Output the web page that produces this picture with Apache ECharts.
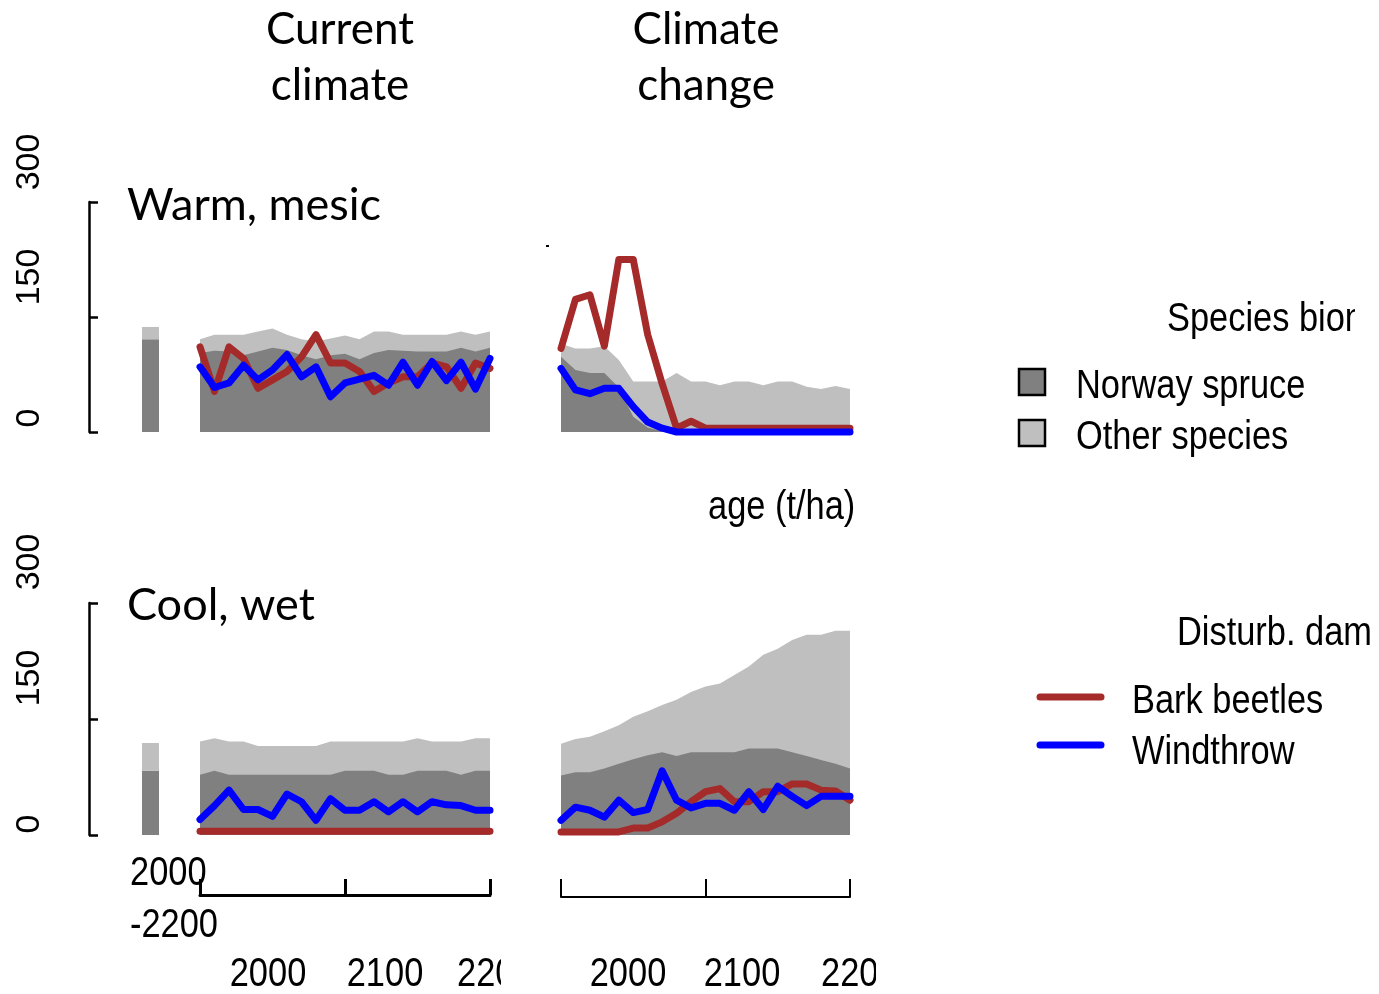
<!DOCTYPE html>
<html><head><meta charset="utf-8">
<script src="https://cdn.jsdelivr.net/npm/echarts@6/dist/echarts.min.js"></script>
<style>html,body{margin:0;padding:0;background:#fff}#c{width:1379px;height:994px}</style>
</head><body><div id="c"></div>
<script>
// ---------- data ----------
const years = [2000,2010,2020,2030,2040,2050,2060,2070,2080,2090,2100,2110,2120,2130,2140,2150,2160,2170,2180,2190,2200];
const initCats = ['', 'init', ''];
const yTickLabels = ['0','150','300'];
const xTickLabels = ['2000','2100','2200'];

// Warm, mesic – initial state
const warmInitSpruce = 121;
const warmInitOther = 16;
// Warm, mesic – current climate
const warmCurSpruce = [103,106,105,100,105,110,107,100,95,100,102,95,103,107,106,105,105,105,110,105,110];
const warmCurOther  = [18,21,22,27,26,25,20,21,23,22,24,26,28,24,21,22,22,22,21,22,21];
const warmCurBeetle = [111,53,111,96,57,68,79,98,127,90,90,79,53,64,72,72,90,85,57,90,83];
const warmCurWind   = [85,58,64,87,68,81,101,72,85,46,64,69,74,61,91,61,92,67,91,56,96];
// Warm, mesic – climate change
const warmCCSpruce = [98,81,77,77,58,20,6,1,0,0,0,0,0,0,0,0,0,0,0,0,0];
const warmCCOther  = [17,28,32,35,36,46,60,65,77,66,66,61,66,66,61,66,66,59,56,60,56];
const warmCCBeetle = [109,173,179,112,225,225,127,63,5,14,5,5,5,5,5,5,5,5,5,5,5];
const warmCCWind   = [83,55,50,57,57,33,13,5,0,0,0,0,0,0,0,0,0,0,0,0,0];

// Cool, wet – initial state
const coolInitSpruce = 83;
const coolInitOther = 36;
// Cool, wet – current climate
const coolCurSpruce = [78,83,78,78,78,78,78,78,78,78,83,83,83,78,78,83,83,83,78,83,83];
const coolCurOther  = [43,42,43,43,37,37,37,37,37,43,38,38,38,43,43,42,38,38,43,42,42];
const coolCurBeetle = [5,5,5,5,5,5,5,5,5,5,5,5,5,5,5,5,5,5,5,5,5];
const coolCurWind   = [20,38,58,33,33,24,53,43,19,47,32,32,43,30,43,30,43,39,38,32,32];
// Cool, wet – climate change
const coolCCSpruce = [77,81,81,86,92,98,103,107,102,107,107,107,107,112,112,112,107,102,97,92,86];
const coolCCOther  = [41,43,46,48,50,55,57,61,73,78,85,89,100,106,121,129,145,157,162,172,178];
const coolCCBeetle = [4,4,4,4,4,9,9,17,28,43,56,60,43,43,56,56,66,66,58,57,45];
const coolCCWind   = [19,36,32,23,45,29,33,83,45,35,41,41,32,56,33,63,50,38,50,50,50];

// ---------- styles ----------
const DARK = '#808080', LIGHT = '#bfbfbf', RED = '#a52a2a', BLUE = '#0000ff';
const SANS = "'Liberation Sans',Arial,sans-serif";
const TITLE = "Lato,'Open Sans',sans-serif";
const NARROW_SCALE = 0.86;

const chart = echarts.init(document.getElementById('c'), null, {renderer: 'canvas'});
const pairs = arr => years.map((y, i) => [y, arr[i]]);

function panelSeries(g, spruce, other, beetle, wind) {
  const base = {type: 'line', xAxisIndex: g, yAxisIndex: g, symbol: 'none', silent: true, animation: false};
  const total = spruce.map((v, i) => v + other[i]);   // other species stacked on Norway spruce
  return [
    Object.assign({}, base, {name: 'Other species', data: pairs(total), lineStyle: {width: 0}, areaStyle: {color: LIGHT, opacity: 1}, z: 1}),
    Object.assign({}, base, {name: 'Norway spruce', data: pairs(spruce), lineStyle: {width: 0}, areaStyle: {color: DARK, opacity: 1}, z: 2}),
    Object.assign({}, base, {name: 'Bark beetles', data: pairs(beetle), clip: false, lineStyle: {color: RED, width: 7, cap: 'round', join: 'round'}, z: 3}),
    Object.assign({}, base, {name: 'Windthrow', data: pairs(wind), clip: false, lineStyle: {color: BLUE, width: 7, cap: 'round', join: 'round'}, z: 4})
  ];
}
function initSeries(g, spruce, other) {
  const base = {type: 'bar', xAxisIndex: g, yAxisIndex: g, stack: 'i' + g, barWidth: 17, silent: true, animation: false};
  return [
    Object.assign({}, base, {data: [null, spruce, null], itemStyle: {color: DARK}}),
    Object.assign({}, base, {data: [null, other, null], itemStyle: {color: LIGHT}})
  ];
}

const grids = [
  {left: 89, top: 202, width: 123, height: 230},
  {left: 200, top: 202, width: 290, height: 230},
  {left: 561, top: 202, width: 289, height: 230},
  {left: 89, top: 603, width: 123, height: 232},
  {left: 200, top: 603, width: 290, height: 232},
  {left: 561, top: 603, width: 289, height: 232}
];
const hiddenY = {type: 'value', min: 0, max: 300, interval: 150, show: false};
const shownY = {type: 'value', min: 0, max: 300, interval: 150, show: true,
  axisLine: {show: true, onZero: false, lineStyle: {color: '#000', width: 2.5}},
  axisTick: {show: true, inside: true, length: 9, lineStyle: {color: '#000', width: 2.5}},
  axisLabel: {show: false}, splitLine: {show: false}};
const hiddenX = {type: 'value', min: 2000, max: 2200, show: false};
const catX = {type: 'category', data: initCats, show: false};
function shownX(g, offset, w, len) {
  return {type: 'value', gridIndex: g, min: 2000, max: 2200, interval: 100, position: 'bottom', offset: offset,
    axisLine: {show: true, onZero: false, lineStyle: {color: '#000', width: w}},
    axisTick: {show: true, inside: true, length: len, lineStyle: {color: '#000', width: w}},
    axisLabel: {show: false}, splitLine: {show: false}};
}

const xAxes = [
  Object.assign({gridIndex: 0}, catX),
  Object.assign({gridIndex: 1}, hiddenX),
  Object.assign({gridIndex: 2}, hiddenX),
  Object.assign({gridIndex: 3}, catX),
  shownX(4, 60, 3, 16),
  shownX(5, 62, 2, 18)
];
const yAxes = [
  Object.assign({gridIndex: 0}, shownY),
  Object.assign({gridIndex: 1}, hiddenY),
  Object.assign({gridIndex: 2}, hiddenY),
  Object.assign({gridIndex: 3}, shownY),
  Object.assign({gridIndex: 4}, hiddenY),
  Object.assign({gridIndex: 5}, hiddenY)
];

const series = [].concat(
  initSeries(0, warmInitSpruce, warmInitOther),
  panelSeries(1, warmCurSpruce, warmCurOther, warmCurBeetle, warmCurWind),
  panelSeries(2, warmCCSpruce, warmCCOther, warmCCBeetle, warmCCWind),
  initSeries(3, coolInitSpruce, coolInitOther),
  panelSeries(4, coolCurSpruce, coolCurOther, coolCurBeetle, coolCurWind),
  panelSeries(5, coolCCSpruce, coolCCOther, coolCCBeetle, coolCCWind)
);

// ---------- text ----------
function txt(text, x, y, opts) {
  return Object.assign({type: 'text', x: x, y: y, z: 10, style: Object.assign({text: text, fill: '#000',
    font: opts.font, textAlign: opts.align || 'left', textVerticalAlign: 'middle'}, opts.style || {})}, opts.el || {});
}
function ntxt(text, x, y, align) {   // condensed sans text
  return txt(text, x, y, {font: '40px ' + SANS, align: align, el: {scaleX: NARROW_SCALE}});
}
const T = '44px ' + TITLE;
const A = '34px ' + SANS;
const rot = {rotation: Math.PI / 2};
const graphic = [
  txt('Current', 340, 30, {font: T, align: 'center'}),
  txt('climate', 340, 86, {font: T, align: 'center'}),
  txt('Climate', 706, 30, {font: T, align: 'center'}),
  txt('change', 706, 86, {font: T, align: 'center'}),
  txt('Warm, mesic', 127, 205, {font: '45px ' + TITLE}),
  txt('Cool, wet', 127, 605, {font: '45px ' + TITLE}),
  // y tick labels (rotated)
  txt(yTickLabels[2], 30, 162, {font: A, align: 'center', el: rot}),
  txt(yTickLabels[1], 30, 277, {font: A, align: 'center', el: rot}),
  txt(yTickLabels[0], 30, 418, {font: A, align: 'center', el: rot}),
  txt(yTickLabels[2], 30, 562, {font: A, align: 'center', el: rot}),
  txt(yTickLabels[1], 30, 678, {font: A, align: 'center', el: rot}),
  txt(yTickLabels[0], 30, 824, {font: A, align: 'center', el: rot}),
  // x labels
  ntxt(xTickLabels[0], 130, 874),
  ntxt('-' + xTickLabels[2], 130, 926),
  ntxt(xTickLabels[0], 268, 975, 'center'),
  ntxt(xTickLabels[1], 385, 975, 'center'),
  ntxt(xTickLabels[2], 457, 975),
  ntxt(xTickLabels[0], 628, 975, 'center'),
  ntxt(xTickLabels[1], 742, 975, 'center'),
  ntxt(xTickLabels[2], 821, 975),
  {type: 'rect', z: 20, shape: {x: 501, y: 950, width: 80, height: 44}, style: {fill: '#fff'}},
  {type: 'rect', z: 20, shape: {x: 876, y: 950, width: 503, height: 44}, style: {fill: '#fff'}},
  // floating axis label fragment
  ntxt('age (t/ha)', 708, 508),
  {type: 'rect', z: 10, shape: {x: 546, y: 245, width: 3, height: 2}, style: {fill: '#000'}},
  // legends
  ntxt('Species biomass (t/ha)', 1167, 320),
  {type: 'rect', z: 20, shape: {x: 1355, y: 290, width: 30, height: 60}, style: {fill: '#fff'}},
  {type: 'rect', z: 10, shape: {x: 1019, y: 369, width: 26, height: 26}, style: {fill: DARK, stroke: '#000', lineWidth: 2.5}},
  {type: 'rect', z: 10, shape: {x: 1019, y: 420, width: 26, height: 26}, style: {fill: LIGHT, stroke: '#000', lineWidth: 2.5}},
  ntxt('Norway spruce', 1076, 387),
  ntxt('Other species', 1076, 438),
  ntxt('Disturb. damage (t/ha)', 1177, 634),
  {type: 'rect', z: 20, shape: {x: 1371, y: 600, width: 20, height: 60}, style: {fill: '#fff'}},
  {type: 'line', z: 10, shape: {x1: 1040, y1: 697, x2: 1101, y2: 697}, style: {stroke: RED, lineWidth: 7, lineCap: 'round'}},
  {type: 'line', z: 10, shape: {x1: 1040, y1: 745, x2: 1101, y2: 745}, style: {stroke: BLUE, lineWidth: 7, lineCap: 'round'}},
  ntxt('Bark beetles', 1132, 702),
  ntxt('Windthrow', 1132, 753)
];

chart.setOption({
  animation: false,
  backgroundColor: '#fff',
  grid: grids,
  xAxis: xAxes,
  yAxis: yAxes,
  series: series,
  graphic: graphic
});
</script></body></html>
